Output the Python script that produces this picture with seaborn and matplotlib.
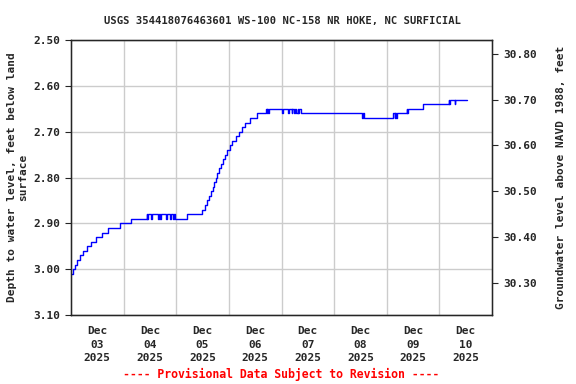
import pandas as pd
import numpy as np
import matplotlib
matplotlib.use('Agg')
import matplotlib.pyplot as plt
import matplotlib.dates as mdates
import seaborn as sns

# hours since Dec 03 2025 00:00 and depth to water (ft below land surface)
hours = [0.0, 0.9, 1.6, 2.7, 3.9, 5.4, 7.3, 9.3, 11.5, 14.3, 16.9, 22.2, 27.2,
         34.5, 34.8, 35.1, 36.6, 37.0, 39.7, 39.9, 40.8, 41.0, 43.4, 43.6,
         45.0, 45.8, 46.7, 46.9, 47.4, 53.0,
         59.7, 61.3, 62.2, 63.1, 64.0, 64.8, 65.4, 66.0, 66.8, 67.5, 68.4,
         69.3, 70.4, 71.3, 72.4, 73.6, 75.1, 76.5, 78.0, 79.5, 81.6, 85.0,
         88.8, 89.2, 89.6, 90.0, 90.3, 96.4, 96.6, 99.0, 99.2, 100.8, 101.0,
         101.8, 102.3, 102.7, 103.3, 103.6, 103.9, 105.1,
         132.9, 133.1, 133.6, 146.9, 147.6, 147.9, 148.3, 148.5,
         153.2, 153.4, 153.7, 160.6, 172.4, 172.6, 172.9, 175.0, 175.3, 180.8]
depth = [3.01, 3.00, 2.99, 2.98, 2.97, 2.96, 2.95, 2.94, 2.93, 2.92, 2.91, 2.90, 2.89,
         2.88, 2.89, 2.88, 2.89, 2.88, 2.89, 2.88, 2.89, 2.88, 2.89, 2.88,
         2.89, 2.88, 2.89, 2.88, 2.89, 2.88,
         2.87, 2.86, 2.85, 2.84, 2.83, 2.82, 2.81, 2.80, 2.79, 2.78, 2.77,
         2.76, 2.75, 2.74, 2.73, 2.72, 2.71, 2.70, 2.69, 2.68, 2.67, 2.66,
         2.65, 2.66, 2.65, 2.66, 2.65, 2.66, 2.65, 2.66, 2.65, 2.66, 2.65,
         2.66, 2.65, 2.66, 2.65, 2.66, 2.65, 2.66,
         2.67, 2.66, 2.67, 2.66, 2.67, 2.66, 2.67, 2.66,
         2.65, 2.66, 2.65, 2.64, 2.63, 2.64, 2.63, 2.64, 2.63, 2.63]

land_surface = 33.33
start = pd.Timestamp('2025-12-03')
day_labels = ['Dec\n03\n2025', 'Dec\n04\n2025', 'Dec\n05\n2025', 'Dec\n06\n2025',
              'Dec\n07\n2025', 'Dec\n08\n2025', 'Dec\n09\n2025', 'Dec\n10\n2025']
left_ticks = [2.50, 2.60, 2.70, 2.80, 2.90, 3.00, 3.10]
right_ticks = [30.30, 30.40, 30.50, 30.60, 30.70, 30.80]

df = pd.DataFrame({'time': start + pd.to_timedelta(hours, unit='h'), 'depth': depth})

sns.set_style('white')
plt.rcParams['font.family'] = ['DejaVu Sans Mono']
plt.rcParams['font.weight'] = 'bold'

fig = plt.figure(figsize=(5.76, 3.84), dpi=100)
ax = fig.add_axes([0.1233, 0.1797, 0.7309, 0.7161])

sns.lineplot(data=df, x='time', y='depth', ax=ax, color='#0000ff', linewidth=1,
             drawstyle='steps-post', estimator=None)

ax.set_xlim(start, start + pd.Timedelta(days=8))
ax.set_ylim(3.10, 2.50)
ax.set_yticks(left_ticks)
ax.set_yticklabels([f'{v:.2f}' for v in left_ticks], fontsize=8, fontweight='bold')

noon = [start + pd.Timedelta(hours=12 + 24 * i) for i in range(8)]
midnight = [start + pd.Timedelta(days=i) for i in range(1, 8)]
ax.set_xticks(noon)
ax.set_xticklabels(day_labels, fontsize=8, fontweight='bold', linespacing=1.45)
ax.set_xticks(midnight, minor=True)
ax.tick_params(axis='x', which='major', length=0, pad=8)
ax.tick_params(axis='x', which='minor', length=0)
ax.tick_params(axis='y', length=4, direction='out', left=True)
ax.grid(False)
ax.grid(True, which='minor', axis='x', color='#cccccc', linewidth=1)
ax.grid(True, which='major', axis='y', color='#cccccc', linewidth=1)
ax.set_xlabel('')
ax.set_ylabel('Depth to water level, feet below land\nsurface', fontsize=8,
              fontweight='bold', linespacing=1.1)
for s in ax.spines.values():
    s.set_color('black')
    s.set_linewidth(1)

ax2 = ax.twinx()
ax2.set_ylim(land_surface - 3.10, land_surface - 2.50)
ax2.set_yticks(right_ticks)
ax2.set_yticklabels([f'{v:.2f}' for v in right_ticks], fontsize=8, fontweight='bold')
ax2.tick_params(axis='y', length=4, direction='out', right=True, pad=4)
ax2.set_ylabel('Groundwater level above NAVD 1988, feet', fontsize=8, fontweight='bold',
               labelpad=14)
ax2.grid(False)

fig.text(0.49, 0.945, 'USGS 354418076463601 WS-100 NC-158 NR HOKE, NC SURFICIAL',
         ha='center', va='center', fontsize=7.6, fontweight='bold')
fig.text(0.488, 0.024, '---- Provisional Data Subject to Revision ----',
         ha='center', va='center', fontsize=8.3, fontweight='bold', color='red')

fig.savefig('out.png', dpi=100)
